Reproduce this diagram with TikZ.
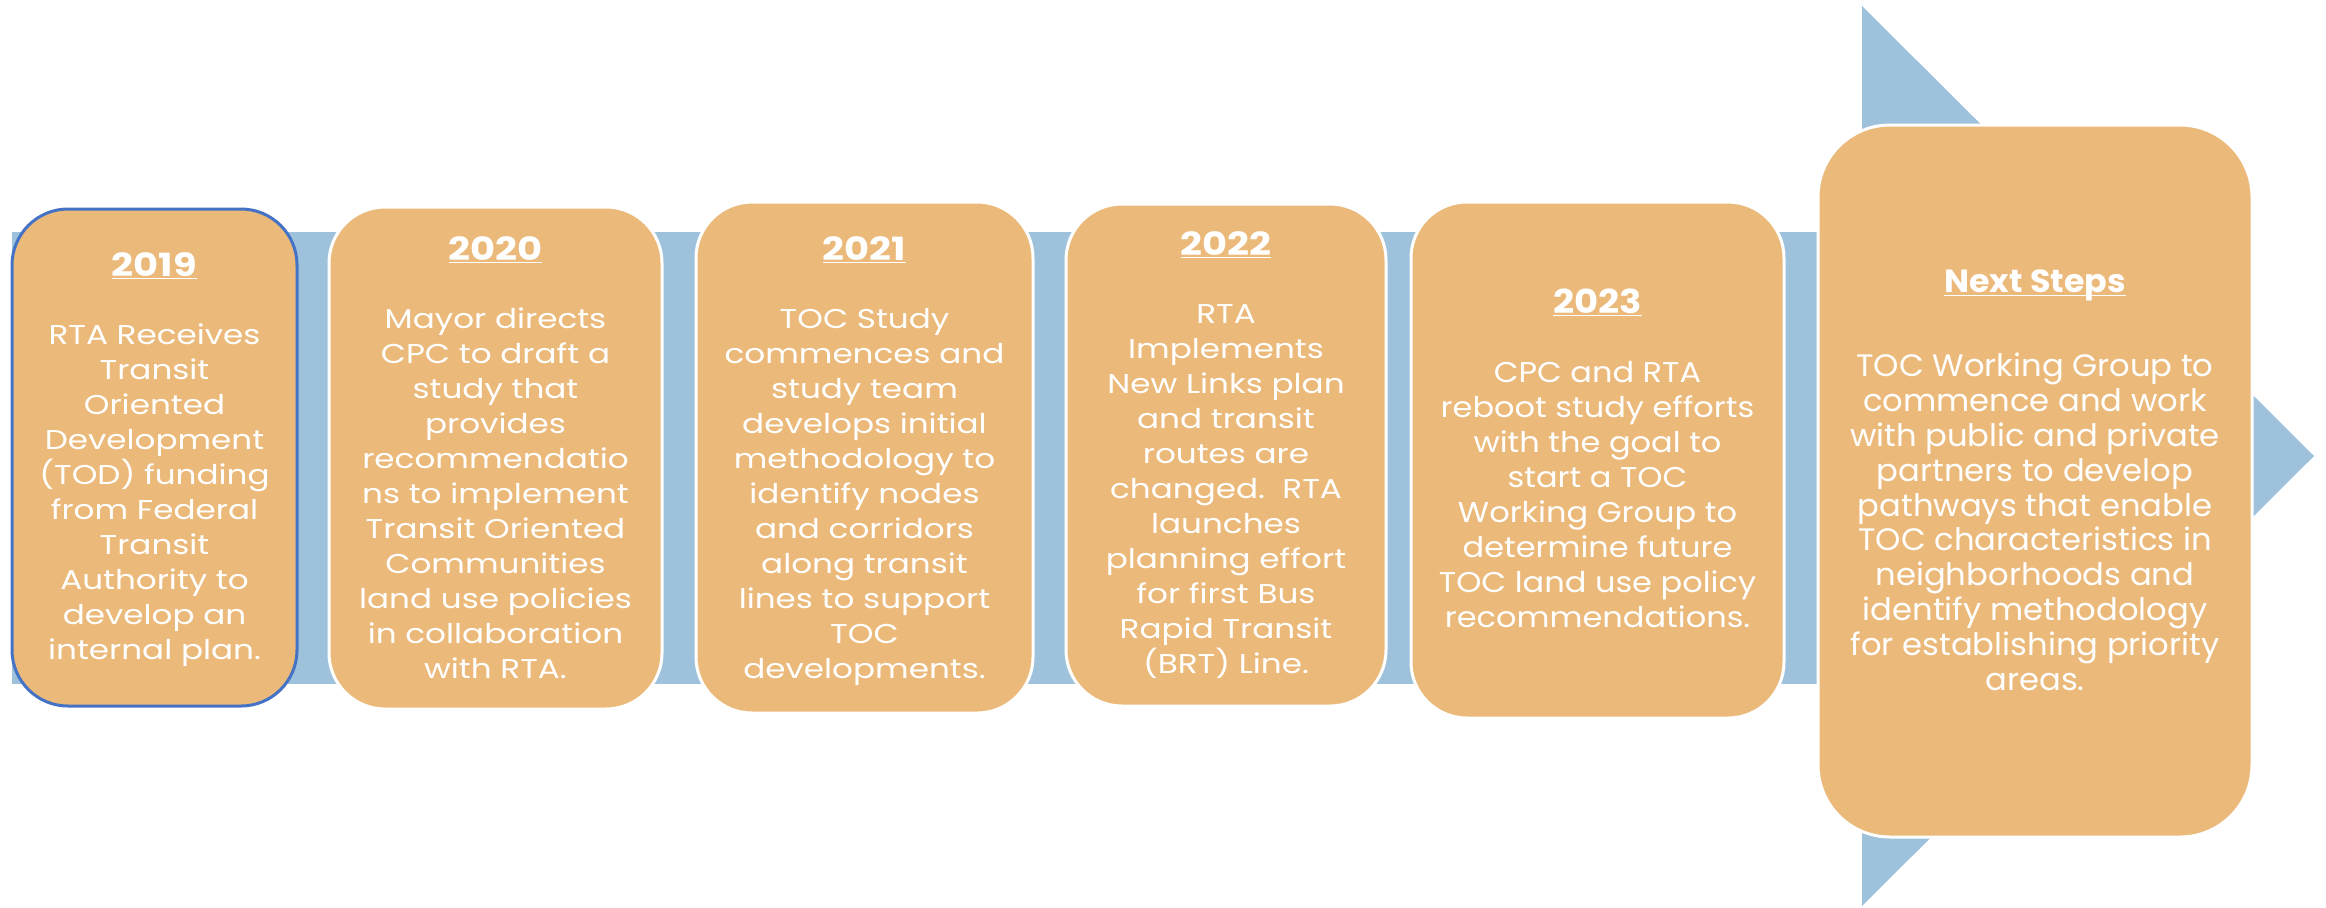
\documentclass[tikz,border=0pt]{standalone}
\usepackage{fontspec}
\setmainfont{Poppins}
\newfontfamily\fonta[FakeStretch=1.2]{Poppins}
\newfontfamily\fontb[FakeStretch=1.12]{Poppins}
\newfontfamily\fontc[FakeStretch=1.04]{Poppins}
\definecolor{barblue}{HTML}{9FC2DC}
\definecolor{boxfill}{HTML}{EBBA7B}
\definecolor{edgeblue}{HTML}{4472C4}
\newcommand{\yr}[1]{\textbf{\underline{\smash{#1}}}}
\tikzset{
  stepbox/.style={draw=white, line width=1.5pt, fill=boxfill, rounded corners=28pt, inner sep=0pt},
  txt/.style={text=white, align=center, inner sep=0pt, anchor=base},
  bodya/.style={txt, font=\fonta\fontsize{13.6}{17.5}\selectfont},
  bodyb/.style={txt, font=\fontb\fontsize{14.3}{17.5}\selectfont},
  bodyc/.style={txt, font=\fontc\fontsize{15.5}{17.4}\selectfont}
}
\begin{document}
\begin{tikzpicture}[x=0.5pt,y=-0.5pt]
\useasboundingbox (0,0) rectangle (2326,907);
% arrow
\fill[barblue] (12,232) rectangle (1862,684);
\fill[barblue] (1862,6) coordinate (t1) -- (2314,456) coordinate (tip) -- (1862,906) coordinate (t2) -- cycle;
% boxes
\node[stepbox, draw=edgeblue, minimum width=142.5pt, minimum height=248.5pt] (b1) at (154.5,457.5) {};
\node[stepbox, minimum width=166.5pt, minimum height=251pt] (b2) at (495.5,458) {};
\node[stepbox, minimum width=168.5pt, minimum height=255.5pt] (b3) at (864.5,457.5) {};
\node[stepbox, minimum width=160pt, minimum height=251pt] (b4) at (1226,455) {};
\node[stepbox, minimum width=186.5pt, minimum height=258pt] (b5) at (1597.5,460) {};
\node[stepbox, rounded corners=36pt, minimum width=217pt, minimum height=356pt] (b6) at (2035,481) {};
% texts (anchored at the baseline of the last line)
\node[bodya] (x1) at (154.5,659) {{\fontsize{16}{17.5}\selectfont\yr{2019}}\\[16.5pt]
RTA Receives\\ Transit\\ Oriented\\ Development\\ (TOD) funding\\ from Federal\\ Transit\\ Authority to\\ develop an\\ internal plan.};
\node[bodya] (x2) at (495.5,678) {{\fontsize{16}{17.5}\selectfont\yr{2020}}\\[16.5pt]
Mayor directs\\ CPC to draft a\\ study that\\ provides\\ recommendatio\\ ns to implement\\ Transit Oriented\\ Communities\\ land use policies\\ in collaboration\\ with RTA.};
\node[bodya] (x3) at (864.5,678) {{\fontsize{16}{17.5}\selectfont\yr{2021}}\\[16.5pt]
TOC Study\\ commences and\\ study team\\ develops initial\\ methodology to\\ identify nodes\\ and corridors\\ along transit\\ lines to support\\ TOC\\ developments.};
\node[bodya] (x4) at (1226,673) {{\fontsize{16}{17.5}\selectfont\yr{2022}}\\[16.5pt]
RTA\\ Implements\\ New Links plan\\ and transit\\ routes are\\ changed.\ \ RTA\\ launches\\ planning effort\\ for first Bus\\ Rapid Transit\\ (BRT) Line.};
\node[bodyb] (x5) at (1597.5,627) {{\fontsize{16.5}{17.5}\selectfont\yr{2023}}\\[17pt]
CPC and RTA\\ reboot study efforts\\ with the goal to\\ start a TOC\\ Working Group to\\ determine future\\ TOC land use policy\\ recommendations.};
\node[bodyc] (x6) at (2035,690) {{\fontsize{16}{17.4}\selectfont\yr{Next Steps}}\\[24.6pt]
TOC Working Group to\\ commence and work\\ with public and private\\ partners to develop\\ pathways that enable\\ TOC characteristics in\\ neighborhoods and\\ identify methodology\\ for establishing priority\\ areas.};
\end{tikzpicture}
\end{document}
